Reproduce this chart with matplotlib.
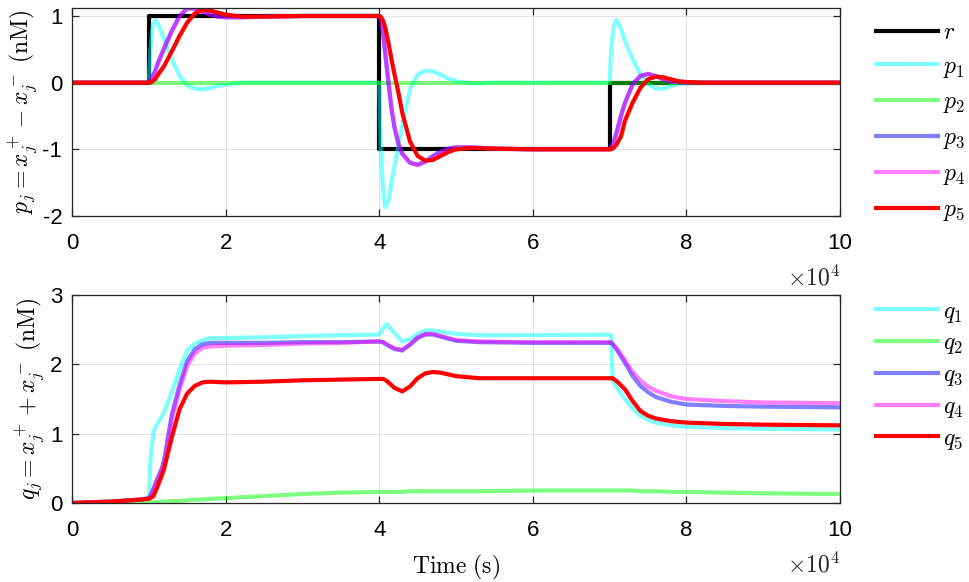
import matplotlib
matplotlib.use("Agg")
import matplotlib.pyplot as plt

plt.rcParams["font.family"] = ["Liberation Sans", "DejaVu Sans"]
plt.rcParams["mathtext.fontset"] = "cm"
plt.rcParams["axes.unicode_minus"] = False

# time axis in units of 1e4 s (shown with a x10^4 multiplier, as in the original)
r_time = [0, 1, 1, 4, 4, 7, 7, 10]
r_vals = [0, 0, 1, 1, -1, -1, 0, 0]

t_top = [0, 0.5, 0.99, 1.0, 1.02, 1.05, 1.08, 1.12, 1.2, 1.3, 1.4, 1.5, 1.6, 1.7, 1.8, 1.9,
         2.0, 2.2, 2.5, 3.0, 3.5, 3.99, 4.0, 4.02, 4.05, 4.08, 4.12, 4.16, 4.2, 4.25, 4.3,
         4.4, 4.5, 4.6, 4.7, 4.8, 4.9, 5.0, 5.2, 5.5, 6.0, 6.5, 6.99, 7.0, 7.02, 7.05, 7.09,
         7.15, 7.2, 7.3, 7.4, 7.5, 7.6, 7.7, 7.8, 7.9, 8.0, 8.2, 8.5, 9.0, 10.0]
p1 = [0, 0, 0, 0, 0.5, 0.85, 0.94, 0.88, 0.65, 0.35, 0.1, -0.04, -0.09, -0.1, -0.08, -0.05,
      -0.03, 0, 0, 0, 0, 0, 0, -1.0, -1.6, -1.87, -1.78, -1.5, -1.25, -0.95, -0.65,
      -0.1, 0.12, 0.18, 0.17, 0.12, 0.06, 0.02, -0.01, 0, 0, 0, 0, 0, 0.5, 0.85, 0.94,
      0.8, 0.62, 0.35, 0.13, -0.02, -0.09, -0.09, -0.05, -0.02, 0, 0, 0, 0, 0]
p2 = [0] * len(t_top)
p3 = [0, 0, 0, 0, 0.04, 0.1, 0.17, 0.3, 0.52, 0.78, 1.0, 1.12, 1.11, 1.06, 1.02, 0.99,
      0.98, 0.98, 0.99, 1.0, 1.0, 1.0, 1.0, 0.95, 0.75, 0.42, 0.0, -0.4, -0.68, -0.92, -1.07,
      -1.2, -1.23, -1.18, -1.1, -1.03, -0.99, -0.97, -0.97, -0.99, -1.0, -1.0, -1.0, -1.0, -0.96, -0.9, -0.75,
      -0.48, -0.3, -0.02, 0.1, 0.13, 0.1, 0.05, 0.02, 0.01, 0, 0, 0, 0, 0]
p4 = [0, 0, 0, 0, 0.04, 0.1, 0.16, 0.29, 0.51, 0.77, 0.99, 1.11, 1.11, 1.06, 1.02, 0.99,
      0.98, 0.98, 0.99, 1.0, 1.0, 1.0, 1.0, 0.95, 0.76, 0.43, 0.02, -0.38, -0.67, -0.91, -1.06,
      -1.2, -1.24, -1.19, -1.11, -1.04, -0.99, -0.97, -0.97, -0.99, -1.0, -1.0, -1.0, -1.0, -0.96, -0.9, -0.76,
      -0.5, -0.31, -0.03, 0.1, 0.13, 0.1, 0.05, 0.02, 0.01, 0, 0, 0, 0, 0]
p5 = [0, 0, 0, 0, 0.0, 0.02, 0.05, 0.12, 0.25, 0.47, 0.7, 0.9, 1.04, 1.09, 1.08, 1.05,
      1.02, 0.99, 0.99, 1.0, 1.0, 1.0, 1.0, 0.99, 0.93, 0.82, 0.6, 0.35, 0.12, -0.15, -0.45,
      -0.88, -1.1, -1.17, -1.16, -1.1, -1.04, -1.0, -0.98, -0.99, -1.0, -1.0, -1.0, -1.0, -1.0, -0.98, -0.93,
      -0.8, -0.57, -0.3, -0.08, 0.05, 0.09, 0.08, 0.05, 0.02, 0.01, 0, 0, 0, 0]

t_bot = [0, 0.5, 0.9, 1.0, 1.02, 1.06, 1.1, 1.17, 1.2, 1.3, 1.4, 1.5, 1.6, 1.7, 1.8, 2.0,
         2.5, 3.0, 3.5, 4.0, 4.05, 4.1, 4.2, 4.3, 4.4, 4.5, 4.6, 4.7, 4.8, 5.0, 5.3, 6.0,
         7.0, 7.02, 7.04, 7.1, 7.2, 7.3, 7.4, 7.5, 7.6, 7.8, 8.0, 8.5, 9.0, 10.0]
q1 = [0, 0.02, 0.05, 0.07, 0.6, 1.02, 1.12, 1.25, 1.32, 1.6, 1.93, 2.2, 2.3, 2.35, 2.38, 2.38,
      2.39, 2.41, 2.42, 2.43, 2.52, 2.58, 2.45, 2.33, 2.36, 2.44, 2.49, 2.49, 2.47, 2.44, 2.42, 2.42,
      2.43, 2.42, 1.75, 1.65, 1.5, 1.36, 1.26, 1.2, 1.16, 1.12, 1.1, 1.08, 1.07, 1.06]
q2 = [0, 0.0, 0.01, 0.01, 0.01, 0.01, 0.01, 0.02, 0.02, 0.03, 0.03, 0.04, 0.05, 0.05, 0.06, 0.07,
      0.1, 0.13, 0.15, 0.16, 0.16, 0.16, 0.16, 0.16, 0.17, 0.17, 0.17, 0.17, 0.17, 0.17, 0.17, 0.18,
      0.18, 0.18, 0.18, 0.18, 0.18, 0.18, 0.17, 0.17, 0.17, 0.16, 0.16, 0.15, 0.14, 0.13]
q3 = [0, 0.02, 0.05, 0.07, 0.1, 0.2, 0.32, 0.5, 0.62, 1.28, 1.7, 2.05, 2.22, 2.29, 2.31, 2.31,
      2.31, 2.32, 2.32, 2.33, 2.32, 2.28, 2.22, 2.2, 2.28, 2.38, 2.43, 2.43, 2.4, 2.34, 2.32, 2.31,
      2.31, 2.31, 2.29, 2.2, 2.02, 1.83, 1.69, 1.6, 1.53, 1.46, 1.42, 1.4, 1.39, 1.38]
q4 = [0, 0.02, 0.05, 0.07, 0.1, 0.2, 0.31, 0.48, 0.6, 1.2, 1.63, 1.98, 2.16, 2.24, 2.26, 2.27,
      2.28, 2.3, 2.31, 2.33, 2.32, 2.29, 2.23, 2.21, 2.29, 2.39, 2.44, 2.44, 2.41, 2.35, 2.33, 2.32,
      2.32, 2.32, 2.3, 2.22, 2.06, 1.89, 1.77, 1.68, 1.62, 1.54, 1.5, 1.47, 1.45, 1.44]
q5 = [0, 0.02, 0.05, 0.06, 0.07, 0.1, 0.2, 0.4, 0.5, 0.95, 1.35, 1.58, 1.69, 1.74, 1.75, 1.74,
      1.75, 1.77, 1.78, 1.79, 1.79, 1.76, 1.66, 1.61, 1.68, 1.8, 1.87, 1.89, 1.88, 1.83, 1.8, 1.8,
      1.8, 1.8, 1.8, 1.75, 1.64, 1.47, 1.33, 1.26, 1.22, 1.18, 1.16, 1.14, 1.13, 1.12]

# MATLAB style: c, g, b, m at half transparency, red opaque
colors = ["#00ffff", "#00ff00", "#0000ff", "#ff00ff", "#ff0000"]
alphas = [0.5, 0.5, 0.5, 0.5, 1.0]
x_ticks = [0, 2, 4, 6, 8, 10]
lw = 3.0

fig = plt.figure(figsize=(9.69, 5.82), dpi=100)
ax1 = fig.add_axes([0.0743, 0.6289, 0.7926, 0.3574])
ax2 = fig.add_axes([0.0743, 0.1357, 0.7926, 0.3574])

ax1.plot(r_time, r_vals, color="black", lw=lw, label="$r$")
for i, p in enumerate([p1, p2, p3, p4, p5]):
    ax1.plot(t_top, p, color=colors[i], alpha=alphas[i], lw=lw, label=f"$p_{i+1}$")

for i, q in enumerate([q1, q2, q3, q4, q5]):
    ax2.plot(t_bot, q, color=colors[i], alpha=alphas[i], lw=lw, label=f"$q_{i+1}$")

ax1.set_ylim(-2, 1.12)
ax1.set_yticks([-2, -1, 0, 1])
ax2.set_ylim(0, 3)
ax2.set_yticks([0, 1, 2, 3])

for ax in (ax1, ax2):
    ax.set_xlim(0, 10)
    ax.set_xticks(x_ticks)
    ax.set_xticklabels([str(v) for v in x_ticks])
    ax.grid(True, color="#e3e3e3", lw=0.8)
    ax.set_axisbelow(True)
    ax.tick_params(direction="in", length=5, width=0.9, top=True, right=True,
                   labelsize=16, colors="#262626", labelcolor="black")
    ax.tick_params(axis="x", pad=12)
    ax.tick_params(axis="y", pad=7)
    for s in ax.spines.values():
        s.set_color("#262626")
        s.set_linewidth(0.9)
    ax.text(1.0, -0.235, r"$\times\mathsf{10^4}$", transform=ax.transAxes,
            ha="right", va="top", fontsize=17, color="#262626")

ax1.set_ylabel(r"$p_j = x_j^+ - x_j^-\ (\mathrm{nM})$", fontsize=17, labelpad=2)
ax2.set_ylabel(r"$q_j = x_j^+ + x_j^-\ (\mathrm{nM})$", fontsize=17, labelpad=2)
ax2.set_xlabel(r"$\mathrm{Time\ (s)}$", fontsize=17, labelpad=9)

leg_kw = dict(loc="center left", frameon=False, fontsize=17, handlelength=2.6,
              handletextpad=0.25, borderaxespad=0, borderpad=0)
l1 = ax1.legend(bbox_to_anchor=(1.047, 0.45), labelspacing=0.5, **leg_kw)
l2 = ax2.legend(bbox_to_anchor=(1.047, 0.61), labelspacing=0.33, **leg_kw)

fig.savefig("out.png", dpi=100, facecolor="white")
